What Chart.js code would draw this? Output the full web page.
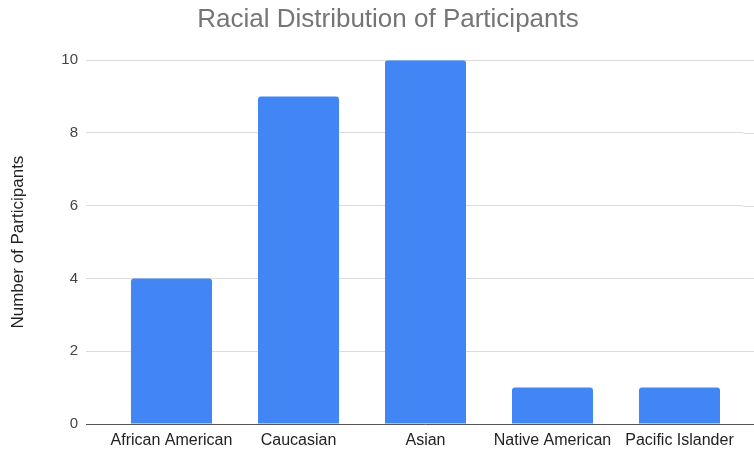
<!DOCTYPE html>
<html>
<head>
<meta charset="utf-8">
<script src="https://cdn.jsdelivr.net/npm/chart.js@4/dist/chart.umd.min.js"></script>
<style>
  html, body { margin: 0; padding: 0; background: #fff; }
  #wrap { width: 754px; height: 450px; }
</style>
</head>
<body>
<div id="wrap"><canvas id="canvas"></canvas></div>
<script>
const races = ['African American', 'Caucasian', 'Asian', 'Native American', 'Pacific Islander']
const participants = [4, 9, 10, 1, 1]
const yTicks = [0, 2, 4, 6, 8, 10]

const FONT = "'Liberation Sans', Arial, sans-serif"

// run the horizontal grid lines out to the right edge of the canvas
const gridToEdge = {
  id: 'gridToEdge',
  beforeDatasetsDraw(chart) {
    const ctx = chart.ctx
    const y = chart.scales.y
    const area = chart.chartArea
    ctx.save()
    ctx.lineWidth = 1
    y.ticks.forEach(function(t) {
      const py = Math.round(y.getPixelForValue(t.value)) + 0.5
      ctx.strokeStyle = t.value === 0 ? '#555' : '#dcdcdc'
      ctx.beginPath()
      ctx.moveTo(area.right, py)
      ctx.lineTo(chart.width, py)
      ctx.stroke()
    })
    ctx.restore()
  }
}

const ctx = document.getElementById('canvas').getContext('2d')
const chart = new Chart(ctx, {
  type: 'bar',
  data: {
    labels: races,
    datasets: [{
      label: 'Participants',
      data: participants,
      backgroundColor: '#4285f4',
      borderRadius: 3,
      barPercentage: 0.638,
      categoryPercentage: 1
    }]
  },
  options: {
    responsive: true,
    maintainAspectRatio: false,
    animation: false,
    // left padding + empty right axis keep the title centred where it belongs
    layout: { padding: { left: 22, right: 0, top: 0, bottom: 0 } },
    plugins: {
      legend: { display: false },
      tooltip: { enabled: false },
      title: {
        display: true,
        text: 'Racial Distribution of Participants',
        color: '#757575',
        font: { family: FONT, size: 26, weight: 'normal' },
        padding: { top: 4, bottom: 25 }
      }
    },
    scales: {
      x: {
        grid: { display: false, drawTicks: false },
        border: { display: false },
        ticks: {
          color: '#222',
          padding: 7,
          maxRotation: 0,
          autoSkip: false,
          font: { family: FONT, size: 16 }
        },
        afterFit(scale) { scale.height = 26 }
      },
      y: {
        min: 0,
        max: 10,
        afterBuildTicks(scale) {
          scale.ticks = yTicks.map(v => ({ value: v }))
        },
        border: { display: false },
        grid: {
          drawTicks: true,
          tickLength: 22,
          lineWidth: 1,
          color: c => c.tick && c.tick.value === 0 ? '#555' : '#dcdcdc',
          tickColor: c => c.tick && c.tick.value === 0 ? '#555' : '#dcdcdc'
        },
        ticks: {
          color: '#444',
          padding: 8,
          font: { family: FONT, size: 15 }
        },
        title: {
          display: true,
          text: 'Number of Participants',
          color: '#222',
          font: { family: FONT, size: 17 },
          // pulled back into the left padding
          padding: { top: -14, bottom: 0 }
        },
        afterFit(scale) { scale.width = 86 }
      },
      yRight: {
        position: 'right',
        display: true,
        min: 0,
        max: 10,
        grid: { display: false, drawTicks: false },
        border: { display: false },
        ticks: { display: false },
        afterFit(scale) { scale.width = 11 }
      }
    }
  },
  plugins: [gridToEdge]
})
</script>
</body>
</html>
